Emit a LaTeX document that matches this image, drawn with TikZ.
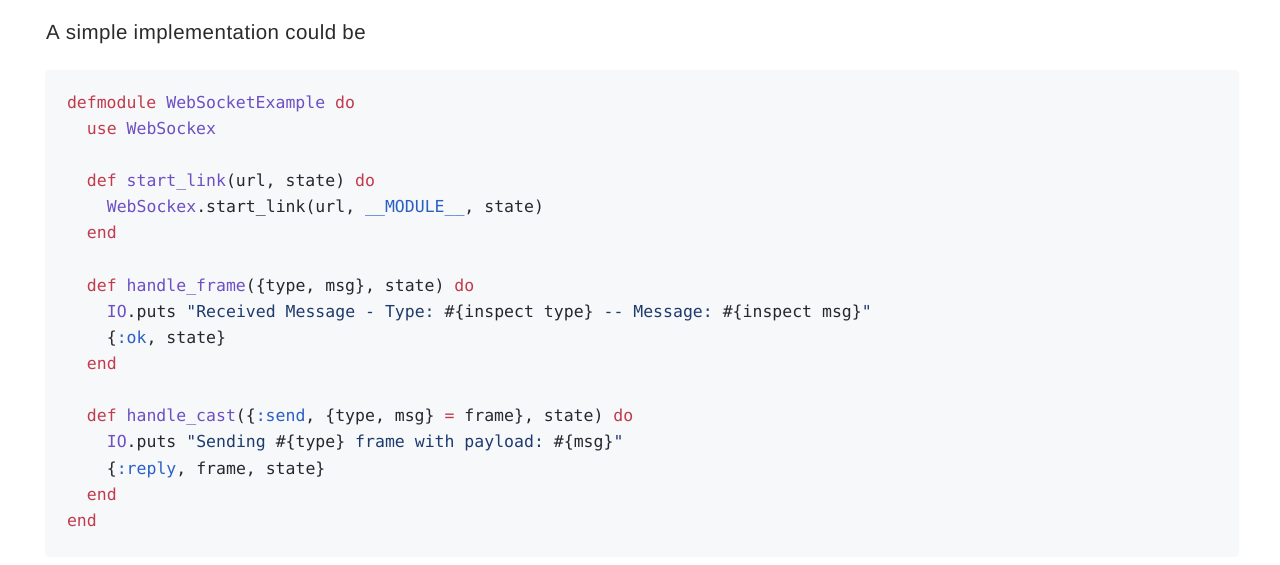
\documentclass[tikz,border=0pt]{standalone}
\usepackage{fontspec}
\setmainfont{Liberation Sans}
\setmonofont{DejaVu Sans Mono}
\newfontfamily\titlefont{Liberation Sans}[LetterSpace=2.4]
\usepackage{xcolor}
\definecolor{pagebg}{HTML}{FFFFFF}
\definecolor{codebg}{HTML}{F6F8FA}
\definecolor{plain}{HTML}{24292F}
\definecolor{titlec}{HTML}{2B2B2B}
\definecolor{kwc}{HTML}{C23A4C}
\definecolor{fnc}{HTML}{6E4FC4}
\definecolor{strc}{HTML}{1F3B6E}
\definecolor{conc}{HTML}{2A5FC4}
\newcommand\ckw[1]{\textcolor{kwc}{#1}}
\newcommand\cfn[1]{\textcolor{fnc}{#1}}
\newcommand\cstr[1]{\textcolor{strc}{#1}}
\newcommand\ccon[1]{\textcolor{conc}{#1}}
\begin{document}
\begin{tikzpicture}[x=1pt,y=-1pt,
  codeline/.style={anchor=base west,inner sep=0pt,outer sep=0pt,
    font=\ttfamily\fontsize{16.5}{20}\selectfont,text=plain},
  titletext/.style={anchor=base west,inner sep=0pt,outer sep=0pt,
    font=\titlefont\fontsize{20.5}{24}\selectfont,text=titlec}]
\useasboundingbox (0,0) rectangle (1280,565);
\fill[pagebg] (0,0) rectangle (1280,565);
\fill[codebg,rounded corners=4pt] (45,70) rectangle (1239,557);
\node[titletext] (title) at (46,39.3) {A simple implementation could be};
\def\cw{9.97}
\def\lh{26.125}
\def\yo{108.3}
\node[codeline] (l1) at (67,\yo) {\ckw{defmodule} \cfn{WebSocketExample} \ckw{do}};
\node[codeline] (l2) at (67+2*\cw,\yo+1*\lh) {\ckw{use} \cfn{WebSockex}};
\node[codeline] (l4) at (67+2*\cw,\yo+3*\lh) {\ckw{def} \cfn{start\_link}(url, state) \ckw{do}};
\node[codeline] (l5) at (67+4*\cw,\yo+4*\lh) {\cfn{WebSockex}.start\_link(url, \ccon{\_\_MODULE\_\_}, state)};
\node[codeline] (l6) at (67+2*\cw,\yo+5*\lh) {\ckw{end}};
\node[codeline] (l8) at (67+2*\cw,\yo+7*\lh) {\ckw{def} \cfn{handle\_frame}(\{type, msg\}, state) \ckw{do}};
\node[codeline] (l9) at (67+4*\cw,\yo+8*\lh) {\cfn{IO}.puts \cstr{"Received Message - Type: }\#\{inspect type\} \cstr{-{}- Message: }\#\{inspect msg\}\cstr{"}};
\node[codeline] (l10) at (67+4*\cw,\yo+9*\lh) {\{\ccon{:ok}, state\}};
\node[codeline] (l11) at (67+2*\cw,\yo+10*\lh) {\ckw{end}};
\node[codeline] (l13) at (67+2*\cw,\yo+12*\lh) {\ckw{def} \cfn{handle\_cast}(\{\ccon{:send}, \{type, msg\} \ckw{=} frame\}, state) \ckw{do}};
\node[codeline] (l14) at (67+4*\cw,\yo+13*\lh) {\cfn{IO}.puts \cstr{"Sending }\#\{type\} \cstr{frame with payload: }\#\{msg\}\cstr{"}};
\node[codeline] (l15) at (67+4*\cw,\yo+14*\lh) {\{\ccon{:reply}, frame, state\}};
\node[codeline] (l16) at (67+2*\cw,\yo+15*\lh) {\ckw{end}};
\node[codeline] (l17) at (67,\yo+16*\lh) {\ckw{end}};
\end{tikzpicture}
\end{document}
